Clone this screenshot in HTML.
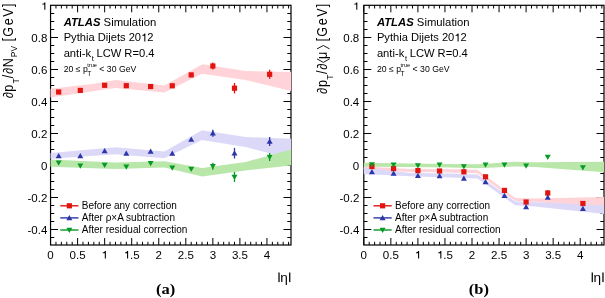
<!DOCTYPE html><html><head><meta charset="utf-8"><style>html,body{margin:0;padding:0;background:#fff;width:605px;height:298px;overflow:hidden}svg{display:block;will-change:transform}</style><style>
text{font-family:"Liberation Sans", sans-serif;fill:#000}
.lab{font-size:10.5px}
.one{fill:none}
.info{font-size:10px}
.small{font-size:8.7px}
.leg{font-size:10px}
.ytit{font-size:14.2px}
.eta{font-size:13.6px}
.plab{font-family:"Liberation Serif", serif;font-weight:bold;font-size:14.8px}
</style></head><body><svg width="605" height="298" viewBox="0 0 605 298"><g><rect x="50.55" y="5.3" width="240.45" height="239.7" fill="none" stroke="#000" stroke-width="1.2"/><path d="M50.55 245.0v-7.0M50.55 5.3v7.0M55.96 245.0v-3.2M55.96 5.3v3.2M61.37 245.0v-3.2M61.37 5.3v3.2M66.78 245.0v-3.2M66.78 5.3v3.2M72.19 245.0v-3.2M72.19 5.3v3.2M77.60 245.0v-7.0M77.60 5.3v7.0M83.01 245.0v-3.2M83.01 5.3v3.2M88.42 245.0v-3.2M88.42 5.3v3.2M93.83 245.0v-3.2M93.83 5.3v3.2M99.24 245.0v-3.2M99.24 5.3v3.2M104.65 245.0v-7.0M104.65 5.3v7.0M110.06 245.0v-3.2M110.06 5.3v3.2M115.47 245.0v-3.2M115.47 5.3v3.2M120.88 245.0v-3.2M120.88 5.3v3.2M126.29 245.0v-3.2M126.29 5.3v3.2M131.70 245.0v-7.0M131.70 5.3v7.0M137.11 245.0v-3.2M137.11 5.3v3.2M142.52 245.0v-3.2M142.52 5.3v3.2M147.93 245.0v-3.2M147.93 5.3v3.2M153.34 245.0v-3.2M153.34 5.3v3.2M158.75 245.0v-7.0M158.75 5.3v7.0M164.16 245.0v-3.2M164.16 5.3v3.2M169.57 245.0v-3.2M169.57 5.3v3.2M174.98 245.0v-3.2M174.98 5.3v3.2M180.39 245.0v-3.2M180.39 5.3v3.2M185.80 245.0v-7.0M185.80 5.3v7.0M191.21 245.0v-3.2M191.21 5.3v3.2M196.62 245.0v-3.2M196.62 5.3v3.2M202.03 245.0v-3.2M202.03 5.3v3.2M207.44 245.0v-3.2M207.44 5.3v3.2M212.85 245.0v-7.0M212.85 5.3v7.0M218.26 245.0v-3.2M218.26 5.3v3.2M223.67 245.0v-3.2M223.67 5.3v3.2M229.08 245.0v-3.2M229.08 5.3v3.2M234.49 245.0v-3.2M234.49 5.3v3.2M239.90 245.0v-7.0M239.90 5.3v7.0M245.31 245.0v-3.2M245.31 5.3v3.2M250.72 245.0v-3.2M250.72 5.3v3.2M256.13 245.0v-3.2M256.13 5.3v3.2M261.54 245.0v-3.2M261.54 5.3v3.2M266.95 245.0v-7.0M266.95 5.3v7.0M272.36 245.0v-3.2M272.36 5.3v3.2M277.77 245.0v-3.2M277.77 5.3v3.2M283.18 245.0v-3.2M283.18 5.3v3.2M288.59 245.0v-3.2M288.59 5.3v3.2M50.55 237.50h3.7M291.0 237.50h-3.7M50.55 229.50h7.5M291.0 229.50h-7.5M50.55 221.50h3.7M291.0 221.50h-3.7M50.55 213.50h3.7M291.0 213.50h-3.7M50.55 205.50h3.7M291.0 205.50h-3.7M50.55 197.50h7.5M291.0 197.50h-7.5M50.55 189.50h3.7M291.0 189.50h-3.7M50.55 181.50h3.7M291.0 181.50h-3.7M50.55 173.50h3.7M291.0 173.50h-3.7M50.55 165.50h7.5M291.0 165.50h-7.5M50.55 157.50h3.7M291.0 157.50h-3.7M50.55 149.50h3.7M291.0 149.50h-3.7M50.55 141.50h3.7M291.0 141.50h-3.7M50.55 133.50h7.5M291.0 133.50h-7.5M50.55 125.50h3.7M291.0 125.50h-3.7M50.55 117.50h3.7M291.0 117.50h-3.7M50.55 109.50h3.7M291.0 109.50h-3.7M50.55 101.50h7.5M291.0 101.50h-7.5M50.55 93.50h3.7M291.0 93.50h-3.7M50.55 85.50h3.7M291.0 85.50h-3.7M50.55 77.50h3.7M291.0 77.50h-3.7M50.55 69.50h7.5M291.0 69.50h-7.5M50.55 61.50h3.7M291.0 61.50h-3.7M50.55 53.50h3.7M291.0 53.50h-3.7M50.55 45.50h3.7M291.0 45.50h-3.7M50.55 37.50h7.5M291.0 37.50h-7.5M50.55 29.50h3.7M291.0 29.50h-3.7M50.55 21.50h3.7M291.0 21.50h-3.7M50.55 13.50h3.7M291.0 13.50h-3.7" stroke="#000" stroke-width="1" fill="none"/><polygon points="50.5,88.8 94.0,83.8 115.5,80.0 164.4,85.4 202.4,64.2 245.6,71.0 291.1,72.0 291.1,91.1 245.6,80.0 201.9,73.8 164.4,92.6 115.5,88.0 94.0,90.9 50.5,97.6" fill="#ffd3d7"/><polygon points="50.5,153.1 115.5,147.3 164.4,151.4 202.1,130.2 245.6,137.0 291.1,138.7 291.1,158.8 245.6,147.0 201.9,140.1 164.4,158.3 115.5,154.3 50.5,158.8" fill="#dcd8f8"/><polygon points="50.5,159.4 115.5,162.5 164.4,161.2 202.1,168.1 245.6,162.0 291.1,149.4 291.1,165.5 245.6,170.5 202.1,176.5 164.4,167.6 115.5,169.1 50.5,166.8" fill="#b9e7aa"/><rect x="56.06" y="89.40" width="5.20" height="5.20" fill="#e1140f"/><rect x="77.71" y="87.80" width="5.20" height="5.20" fill="#e1140f"/><rect x="102.05" y="82.70" width="5.20" height="5.20" fill="#e1140f"/><rect x="123.69" y="83.10" width="5.20" height="5.20" fill="#e1140f"/><rect x="148.03" y="83.90" width="5.20" height="5.20" fill="#e1140f"/><rect x="169.68" y="83.20" width="5.20" height="5.20" fill="#e1140f"/><rect x="188.61" y="72.30" width="5.20" height="5.20" fill="#e1140f"/><line x1="212.85" y1="62.40" x2="212.85" y2="69.60" stroke="#e1140f" stroke-width="1.3"/><rect x="210.25" y="63.40" width="5.20" height="5.20" fill="#e1140f"/><line x1="234.49" y1="83.00" x2="234.49" y2="93.40" stroke="#e1140f" stroke-width="1.3"/><rect x="231.89" y="85.60" width="5.20" height="5.20" fill="#e1140f"/><line x1="269.65" y1="69.80" x2="269.65" y2="78.80" stroke="#e1140f" stroke-width="1.3"/><rect x="267.05" y="71.70" width="5.20" height="5.20" fill="#e1140f"/><polygon points="58.66,153.00 61.66,158.25 55.66,158.25" fill="#2c36a8"/><polygon points="80.31,152.90 83.31,158.15 77.31,158.15" fill="#2c36a8"/><polygon points="104.65,148.10 107.65,153.35 101.65,153.35" fill="#2c36a8"/><polygon points="126.29,150.50 129.29,155.75 123.29,155.75" fill="#2c36a8"/><polygon points="150.63,148.50 153.63,153.75 147.63,153.75" fill="#2c36a8"/><polygon points="172.28,150.60 175.28,155.85 169.28,155.85" fill="#2c36a8"/><polygon points="191.21,136.40 194.21,141.65 188.21,141.65" fill="#2c36a8"/><line x1="212.85" y1="129.80" x2="212.85" y2="136.80" stroke="#2c36a8" stroke-width="1.3"/><polygon points="212.85,130.30 215.85,135.55 209.85,135.55" fill="#2c36a8"/><line x1="234.49" y1="147.90" x2="234.49" y2="158.50" stroke="#2c36a8" stroke-width="1.3"/><polygon points="234.49,150.20 237.49,155.45 231.49,155.45" fill="#2c36a8"/><line x1="269.65" y1="137.10" x2="269.65" y2="146.10" stroke="#2c36a8" stroke-width="1.3"/><polygon points="269.65,138.60 272.65,143.85 266.65,143.85" fill="#2c36a8"/><polygon points="58.66,165.70 61.66,160.45 55.66,160.45" fill="#089a25"/><polygon points="80.31,168.70 83.31,163.45 77.31,163.45" fill="#089a25"/><polygon points="104.65,168.00 107.65,162.75 101.65,162.75" fill="#089a25"/><polygon points="126.29,169.80 129.29,164.55 123.29,164.55" fill="#089a25"/><polygon points="150.63,166.20 153.63,160.95 147.63,160.95" fill="#089a25"/><polygon points="172.28,170.80 175.28,165.55 169.28,165.55" fill="#089a25"/><polygon points="191.21,171.90 194.21,166.65 188.21,166.65" fill="#089a25"/><line x1="212.85" y1="162.80" x2="212.85" y2="169.80" stroke="#089a25" stroke-width="1.3"/><polygon points="212.85,169.30 215.85,164.05 209.85,164.05" fill="#089a25"/><line x1="234.49" y1="172.00" x2="234.49" y2="182.00" stroke="#089a25" stroke-width="1.3"/><polygon points="234.49,180.00 237.49,174.75 231.49,174.75" fill="#089a25"/><line x1="269.65" y1="153.00" x2="269.65" y2="161.00" stroke="#089a25" stroke-width="1.3"/><polygon points="269.65,160.00 272.65,154.75 266.65,154.75" fill="#089a25"/><text transform="translate(47.35,9.80) scale(1.1,1)" text-anchor="end" class="lab"><tspan class="one">1</tspan></text><text transform="translate(47.35,41.80) scale(1.1,1)" text-anchor="end" class="lab">0.8</text><text transform="translate(47.35,73.80) scale(1.1,1)" text-anchor="end" class="lab">0.6</text><text transform="translate(47.35,105.80) scale(1.1,1)" text-anchor="end" class="lab">0.4</text><text transform="translate(47.35,137.80) scale(1.1,1)" text-anchor="end" class="lab">0.2</text><text transform="translate(47.35,169.80) scale(1.1,1)" text-anchor="end" class="lab">0</text><text transform="translate(47.35,201.80) scale(1.1,1)" text-anchor="end" class="lab">-0.2</text><text transform="translate(47.35,233.80) scale(1.1,1)" text-anchor="end" class="lab">-0.4</text><text transform="translate(50.55,258.5) scale(1.1,1)" text-anchor="middle" class="lab">0</text><text transform="translate(77.60,258.5) scale(1.1,1)" text-anchor="middle" class="lab">0.5</text><text transform="translate(104.65,258.5) scale(1.1,1)" text-anchor="middle" class="lab"><tspan class="one">1</tspan></text><text transform="translate(131.70,258.5) scale(1.1,1)" text-anchor="middle" class="lab"><tspan class="one">1</tspan>.5</text><text transform="translate(158.75,258.5) scale(1.1,1)" text-anchor="middle" class="lab">2</text><text transform="translate(185.80,258.5) scale(1.1,1)" text-anchor="middle" class="lab">2.5</text><text transform="translate(212.85,258.5) scale(1.1,1)" text-anchor="middle" class="lab">3</text><text transform="translate(239.90,258.5) scale(1.1,1)" text-anchor="middle" class="lab">3.5</text><text transform="translate(266.95,258.5) scale(1.1,1)" text-anchor="middle" class="lab">4</text><rect x="278.40" y="272.5" width="1.25" height="9.6" fill="#000"/><rect x="289.10" y="272.5" width="1.25" height="9.6" fill="#000"/><text x="280.30" y="282.3" class="eta">η</text><text x="63.65" y="26.4" class="info" style="font-size:11.3px"><tspan font-weight="bold" font-style="italic">ATLAS</tspan> Simulation</text><text x="63.65" y="41.3" class="info" style="font-size:11.15px">Pythia Dijets 20<tspan class="one">1</tspan>2</text><text x="63.65" y="57.4" class="info" style="font-size:11.2px">anti-k<tspan font-size="7.5" dx="0.8" dy="3.9">t</tspan><tspan dx="-0.6" dy="-3.9"> LCW R=0.4</tspan></text><text x="63.65" y="71.6" class="small">20 ≤ p<tspan font-size="6.6" dy="3.9" dx="-0.5">T</tspan><tspan font-size="5.6" dx="-4.0" dy="-8.6">true</tspan><tspan dy="4.7"> &lt; 30 GeV</tspan></text><line x1="60.25" y1="205.80" x2="78.45" y2="205.80" stroke="#e1140f" stroke-width="1.4"/><rect x="66.75" y="203.20" width="5.20" height="5.20" fill="#e1140f"/><text x="81.75" y="208.90" class="leg">Before any correction</text><line x1="60.25" y1="217.90" x2="78.45" y2="217.90" stroke="#2c36a8" stroke-width="1.4"/><polygon points="69.35,214.90 72.35,220.15 66.35,220.15" fill="#2c36a8"/><text x="81.75" y="221.00" class="leg">After ρ×A subtraction</text><line x1="60.25" y1="230.00" x2="78.45" y2="230.00" stroke="#089a25" stroke-width="1.4"/><polygon points="69.35,233.00 72.35,227.75 66.35,227.75" fill="#089a25"/><text x="81.75" y="233.10" class="leg">After residual correction</text><text transform="translate(12.70,98.24) rotate(-90) scale(1,1.12)" style="font-size:12.6px">∂</text><text transform="translate(12.70,91.80) rotate(-90) scale(1,1.12)" style="font-size:12.6px">p</text><text transform="translate(19.10,83.39) rotate(-90) scale(1,1.0)" style="font-size:8.6px">T</text><text transform="translate(12.70,78.33) rotate(-90) scale(1,1.12)" style="font-size:12.6px">/</text><text transform="translate(12.70,73.94) rotate(-90) scale(1,1.12)" style="font-size:12.6px">∂</text><text transform="translate(12.70,67.19) rotate(-90) scale(1,1.12)" style="font-size:12.6px">N</text><text transform="translate(16.70,57.37) rotate(-90) scale(1,1.0)" style="font-size:8.4px">P</text><text transform="translate(16.70,51.49) rotate(-90) scale(1,1.0)" style="font-size:8.4px">V</text><text transform="translate(12.70,41.49) rotate(-90) scale(1,1.12)" style="font-size:12.6px">[</text><text transform="translate(12.70,36.86) rotate(-90) scale(1,1.12)" style="font-size:12.6px">G</text><text transform="translate(12.70,25.15) rotate(-90) scale(1,1.12)" style="font-size:12.6px">e</text><text transform="translate(12.70,16.79) rotate(-90) scale(1,1.12)" style="font-size:12.6px">V</text><text transform="translate(12.70,7.05) rotate(-90) scale(1,1.12)" style="font-size:12.6px">]</text><text transform="translate(165.7,293.7) scale(1.115,1)" text-anchor="middle" class="plab">(a)</text></g><g><rect x="363.8" y="5.3" width="240.2" height="239.7" fill="none" stroke="#000" stroke-width="1.2"/><path d="M363.80 245.0v-7.0M363.80 5.3v7.0M369.21 245.0v-3.2M369.21 5.3v3.2M374.62 245.0v-3.2M374.62 5.3v3.2M380.03 245.0v-3.2M380.03 5.3v3.2M385.44 245.0v-3.2M385.44 5.3v3.2M390.85 245.0v-7.0M390.85 5.3v7.0M396.26 245.0v-3.2M396.26 5.3v3.2M401.67 245.0v-3.2M401.67 5.3v3.2M407.08 245.0v-3.2M407.08 5.3v3.2M412.49 245.0v-3.2M412.49 5.3v3.2M417.90 245.0v-7.0M417.90 5.3v7.0M423.31 245.0v-3.2M423.31 5.3v3.2M428.72 245.0v-3.2M428.72 5.3v3.2M434.13 245.0v-3.2M434.13 5.3v3.2M439.54 245.0v-3.2M439.54 5.3v3.2M444.95 245.0v-7.0M444.95 5.3v7.0M450.36 245.0v-3.2M450.36 5.3v3.2M455.77 245.0v-3.2M455.77 5.3v3.2M461.18 245.0v-3.2M461.18 5.3v3.2M466.59 245.0v-3.2M466.59 5.3v3.2M472.00 245.0v-7.0M472.00 5.3v7.0M477.41 245.0v-3.2M477.41 5.3v3.2M482.82 245.0v-3.2M482.82 5.3v3.2M488.23 245.0v-3.2M488.23 5.3v3.2M493.64 245.0v-3.2M493.64 5.3v3.2M499.05 245.0v-7.0M499.05 5.3v7.0M504.46 245.0v-3.2M504.46 5.3v3.2M509.87 245.0v-3.2M509.87 5.3v3.2M515.28 245.0v-3.2M515.28 5.3v3.2M520.69 245.0v-3.2M520.69 5.3v3.2M526.10 245.0v-7.0M526.10 5.3v7.0M531.51 245.0v-3.2M531.51 5.3v3.2M536.92 245.0v-3.2M536.92 5.3v3.2M542.33 245.0v-3.2M542.33 5.3v3.2M547.74 245.0v-3.2M547.74 5.3v3.2M553.15 245.0v-7.0M553.15 5.3v7.0M558.56 245.0v-3.2M558.56 5.3v3.2M563.97 245.0v-3.2M563.97 5.3v3.2M569.38 245.0v-3.2M569.38 5.3v3.2M574.79 245.0v-3.2M574.79 5.3v3.2M580.20 245.0v-7.0M580.20 5.3v7.0M585.61 245.0v-3.2M585.61 5.3v3.2M591.02 245.0v-3.2M591.02 5.3v3.2M596.43 245.0v-3.2M596.43 5.3v3.2M601.84 245.0v-3.2M601.84 5.3v3.2M363.8 237.50h3.7M604.0 237.50h-3.7M363.8 229.50h7.5M604.0 229.50h-7.5M363.8 221.50h3.7M604.0 221.50h-3.7M363.8 213.50h3.7M604.0 213.50h-3.7M363.8 205.50h3.7M604.0 205.50h-3.7M363.8 197.50h7.5M604.0 197.50h-7.5M363.8 189.50h3.7M604.0 189.50h-3.7M363.8 181.50h3.7M604.0 181.50h-3.7M363.8 173.50h3.7M604.0 173.50h-3.7M363.8 165.50h7.5M604.0 165.50h-7.5M363.8 157.50h3.7M604.0 157.50h-3.7M363.8 149.50h3.7M604.0 149.50h-3.7M363.8 141.50h3.7M604.0 141.50h-3.7M363.8 133.50h7.5M604.0 133.50h-7.5M363.8 125.50h3.7M604.0 125.50h-3.7M363.8 117.50h3.7M604.0 117.50h-3.7M363.8 109.50h3.7M604.0 109.50h-3.7M363.8 101.50h7.5M604.0 101.50h-7.5M363.8 93.50h3.7M604.0 93.50h-3.7M363.8 85.50h3.7M604.0 85.50h-3.7M363.8 77.50h3.7M604.0 77.50h-3.7M363.8 69.50h7.5M604.0 69.50h-7.5M363.8 61.50h3.7M604.0 61.50h-3.7M363.8 53.50h3.7M604.0 53.50h-3.7M363.8 45.50h3.7M604.0 45.50h-3.7M363.8 37.50h7.5M604.0 37.50h-7.5M363.8 29.50h3.7M604.0 29.50h-3.7M363.8 21.50h3.7M604.0 21.50h-3.7M363.8 13.50h3.7M604.0 13.50h-3.7" stroke="#000" stroke-width="1" fill="none"/><polygon points="363.8,166.5 410.0,168.9 450.0,169.3 477.4,169.8 515.3,197.9 535.0,198.6 604.0,197.0 604.0,207.6 535.0,202.1 515.3,201.0 477.4,173.3 450.0,172.5 410.0,171.9 363.8,169.5" fill="#ffd3d7"/><polygon points="363.8,167.6 410.0,172.9 450.0,173.5 477.4,174.6 515.3,201.6 535.0,202.3 604.0,205.2 604.0,213.9 535.0,206.4 515.3,205.3 477.4,178.6 450.0,177.5 410.0,176.2 363.8,174.0" fill="#dcd8f8"/><polygon points="363.8,162.8 410.0,163.6 450.0,164.0 477.4,164.3 515.3,161.8 535.0,162.2 604.0,161.7 604.0,172.3 535.0,166.9 515.3,166.5 477.4,168.2 450.0,167.6 410.0,166.9 363.8,166.8" fill="#b9e7aa"/><rect x="369.31" y="163.90" width="5.20" height="5.20" fill="#e1140f"/><rect x="390.95" y="166.00" width="5.20" height="5.20" fill="#e1140f"/><rect x="415.30" y="168.00" width="5.20" height="5.20" fill="#e1140f"/><rect x="436.94" y="168.40" width="5.20" height="5.20" fill="#e1140f"/><rect x="461.28" y="169.20" width="5.20" height="5.20" fill="#e1140f"/><rect x="482.93" y="174.20" width="5.20" height="5.20" fill="#e1140f"/><rect x="501.86" y="187.80" width="5.20" height="5.20" fill="#e1140f"/><rect x="523.50" y="199.40" width="5.20" height="5.20" fill="#e1140f"/><line x1="547.74" y1="190.00" x2="547.74" y2="196.00" stroke="#e1140f" stroke-width="1.3"/><rect x="545.14" y="190.40" width="5.20" height="5.20" fill="#e1140f"/><rect x="580.30" y="200.90" width="5.20" height="5.20" fill="#e1140f"/><polygon points="371.92,169.00 374.92,174.25 368.92,174.25" fill="#2c36a8"/><polygon points="393.56,170.60 396.56,175.85 390.56,175.85" fill="#2c36a8"/><polygon points="417.90,172.70 420.90,177.95 414.90,177.95" fill="#2c36a8"/><polygon points="439.54,173.00 442.54,178.25 436.54,178.25" fill="#2c36a8"/><polygon points="463.88,175.40 466.88,180.65 460.88,180.65" fill="#2c36a8"/><polygon points="485.53,179.10 488.53,184.35 482.53,184.35" fill="#2c36a8"/><polygon points="504.46,192.80 507.46,198.05 501.46,198.05" fill="#2c36a8"/><polygon points="526.10,204.00 529.10,209.25 523.10,209.25" fill="#2c36a8"/><polygon points="547.74,194.40 550.74,199.65 544.74,199.65" fill="#2c36a8"/><polygon points="582.90,205.70 585.90,210.95 579.90,210.95" fill="#2c36a8"/><polygon points="371.92,167.50 374.92,162.25 368.92,162.25" fill="#089a25"/><polygon points="393.56,167.80 396.56,162.55 390.56,162.55" fill="#089a25"/><polygon points="417.90,168.40 420.90,163.15 414.90,163.15" fill="#089a25"/><polygon points="439.54,167.80 442.54,162.55 436.54,162.55" fill="#089a25"/><polygon points="463.88,169.50 466.88,164.25 460.88,164.25" fill="#089a25"/><polygon points="485.53,167.80 488.53,162.55 482.53,162.55" fill="#089a25"/><polygon points="504.46,167.80 507.46,162.55 501.46,162.55" fill="#089a25"/><polygon points="526.10,168.80 529.10,163.55 523.10,163.55" fill="#089a25"/><polygon points="547.74,160.00 550.74,154.75 544.74,154.75" fill="#089a25"/><polygon points="582.90,170.60 585.90,165.35 579.90,165.35" fill="#089a25"/><text transform="translate(359.30,9.80) scale(1.1,1)" text-anchor="end" class="lab"><tspan class="one">1</tspan></text><text transform="translate(359.30,41.80) scale(1.1,1)" text-anchor="end" class="lab">0.8</text><text transform="translate(359.30,73.80) scale(1.1,1)" text-anchor="end" class="lab">0.6</text><text transform="translate(359.30,105.80) scale(1.1,1)" text-anchor="end" class="lab">0.4</text><text transform="translate(359.30,137.80) scale(1.1,1)" text-anchor="end" class="lab">0.2</text><text transform="translate(359.30,169.80) scale(1.1,1)" text-anchor="end" class="lab">0</text><text transform="translate(359.30,201.80) scale(1.1,1)" text-anchor="end" class="lab">-0.2</text><text transform="translate(359.30,233.80) scale(1.1,1)" text-anchor="end" class="lab">-0.4</text><text transform="translate(363.80,258.5) scale(1.1,1)" text-anchor="middle" class="lab">0</text><text transform="translate(390.85,258.5) scale(1.1,1)" text-anchor="middle" class="lab">0.5</text><text transform="translate(417.90,258.5) scale(1.1,1)" text-anchor="middle" class="lab"><tspan class="one">1</tspan></text><text transform="translate(444.95,258.5) scale(1.1,1)" text-anchor="middle" class="lab"><tspan class="one">1</tspan>.5</text><text transform="translate(472.00,258.5) scale(1.1,1)" text-anchor="middle" class="lab">2</text><text transform="translate(499.05,258.5) scale(1.1,1)" text-anchor="middle" class="lab">2.5</text><text transform="translate(526.10,258.5) scale(1.1,1)" text-anchor="middle" class="lab">3</text><text transform="translate(553.15,258.5) scale(1.1,1)" text-anchor="middle" class="lab">3.5</text><text transform="translate(580.20,258.5) scale(1.1,1)" text-anchor="middle" class="lab">4</text><rect x="591.65" y="272.5" width="1.25" height="9.6" fill="#000"/><rect x="602.35" y="272.5" width="1.25" height="9.6" fill="#000"/><text x="593.55" y="282.3" class="eta">η</text><text x="376.90" y="26.4" class="info" style="font-size:11.3px"><tspan font-weight="bold" font-style="italic">ATLAS</tspan> Simulation</text><text x="376.90" y="41.3" class="info" style="font-size:11.15px">Pythia Dijets 20<tspan class="one">1</tspan>2</text><text x="376.90" y="57.4" class="info" style="font-size:11.2px">anti-k<tspan font-size="7.5" dx="0.8" dy="3.9">t</tspan><tspan dx="-0.6" dy="-3.9"> LCW R=0.4</tspan></text><text x="376.90" y="71.6" class="small">20 ≤ p<tspan font-size="6.6" dy="3.9" dx="-0.5">T</tspan><tspan font-size="5.6" dx="-4.0" dy="-8.6">true</tspan><tspan dy="4.7"> &lt; 30 GeV</tspan></text><line x1="373.50" y1="205.80" x2="391.70" y2="205.80" stroke="#e1140f" stroke-width="1.4"/><rect x="380.00" y="203.20" width="5.20" height="5.20" fill="#e1140f"/><text x="395.00" y="208.90" class="leg">Before any correction</text><line x1="373.50" y1="217.90" x2="391.70" y2="217.90" stroke="#2c36a8" stroke-width="1.4"/><polygon points="382.60,214.90 385.60,220.15 379.60,220.15" fill="#2c36a8"/><text x="395.00" y="221.00" class="leg">After ρ×A subtraction</text><line x1="373.50" y1="230.00" x2="391.70" y2="230.00" stroke="#089a25" stroke-width="1.4"/><polygon points="382.60,233.00 385.60,227.75 379.60,227.75" fill="#089a25"/><text x="395.00" y="233.10" class="leg">After residual correction</text><path d="M317.00 58.9L323.30 62.4L329.60 58.9M317.00 48.9L323.30 45.5L329.60 48.9" stroke="#000" stroke-width="0.9" fill="none"/><text transform="translate(327.00,93.99) rotate(-90) scale(1,1.12)" style="font-size:12.6px">∂</text><text transform="translate(327.00,87.00) rotate(-90) scale(1,1.12)" style="font-size:12.6px">p</text><text transform="translate(333.40,79.69) rotate(-90) scale(1,1.0)" style="font-size:8.6px">T</text><text transform="translate(327.00,74.08) rotate(-90) scale(1,1.12)" style="font-size:12.6px">/</text><text transform="translate(327.00,69.74) rotate(-90) scale(1,1.12)" style="font-size:12.6px">∂</text><text transform="translate(327.00,58.94) rotate(-90) scale(1,1.12)" style="font-size:12.6px">μ</text><text transform="translate(327.00,41.49) rotate(-90) scale(1,1.12)" style="font-size:12.6px">[</text><text transform="translate(327.00,36.86) rotate(-90) scale(1,1.12)" style="font-size:12.6px">G</text><text transform="translate(327.00,25.15) rotate(-90) scale(1,1.12)" style="font-size:12.6px">e</text><text transform="translate(327.00,16.79) rotate(-90) scale(1,1.12)" style="font-size:12.6px">V</text><text transform="translate(327.00,7.15) rotate(-90) scale(1,1.12)" style="font-size:12.6px">]</text><text transform="translate(478.8,293.7) scale(1.115,1)" text-anchor="middle" class="plab">(b)</text></g><path class="onep" d="M45.37 2.41L45.37 9.79L44.30 9.79L44.30 4.54L42.22 4.54L42.22 3.84C43.63 3.67 44.04 3.36 44.39 2.41ZM105.88 251.11L105.88 258.49L104.81 258.49L104.81 253.24L102.73 253.24L102.73 252.54C104.14 252.37 104.56 252.06 104.90 251.11ZM128.13 251.11L128.13 258.49L127.05 258.49L127.05 253.24L124.97 253.24L124.97 252.54C126.38 252.37 126.80 252.06 127.15 251.11ZM145.35 33.55L145.35 41.39L144.31 41.39L144.31 35.82L142.31 35.82L142.31 35.07C143.67 34.89 144.07 34.57 144.40 33.55ZM357.32 2.41L357.32 9.79L356.25 9.79L356.25 4.54L354.17 4.54L354.17 3.84C355.58 3.67 355.99 3.36 356.34 2.41ZM419.13 251.11L419.13 258.49L418.06 258.49L418.06 253.24L415.98 253.24L415.98 252.54C417.39 252.37 417.81 252.06 418.15 251.11ZM441.38 251.11L441.38 258.49L440.30 258.49L440.30 253.24L438.22 253.24L438.22 252.54C439.63 252.37 440.05 252.06 440.40 251.11ZM458.60 33.55L458.60 41.39L457.56 41.39L457.56 35.82L455.56 35.82L455.56 35.07C456.92 34.89 457.32 34.57 457.65 33.55Z" fill="#000"/></svg></body></html>
